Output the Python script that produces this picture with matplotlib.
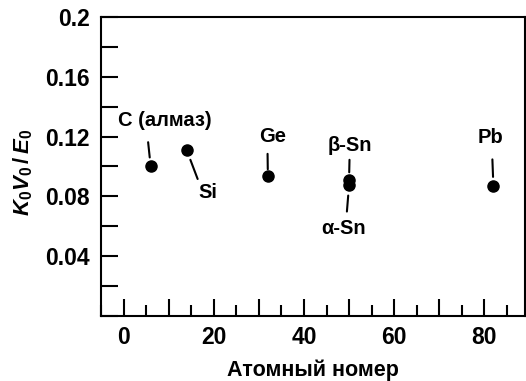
import matplotlib
matplotlib.use("Agg")
import matplotlib.pyplot as plt
from matplotlib.ticker import MultipleLocator, FuncFormatter

plt.rcParams['font.family'] = ['Liberation Sans', 'DejaVu Sans']
plt.rcParams['font.weight'] = 'bold'
plt.rcParams['mathtext.fontset'] = 'custom'
plt.rcParams['mathtext.it'] = 'Liberation Sans:italic:bold'
plt.rcParams['mathtext.rm'] = 'Liberation Sans:bold'

# atomic number and K0*V0/E0
elements = ["C (алмаз)", "Si", "Ge", "β-Sn", "α-Sn", "Pb"]
z = [6, 14, 32, 50, 50, 82]
ratio = [0.1005, 0.111, 0.0935, 0.091, 0.0875, 0.087]

# label placement (offset pixels), alignment, leader start (relpos) and gaps
offsets = [(14, 36), (21, -33), (5, 30), (1, 25), (-5, -34), (-3, 39)]
valign = ["bottom", "top", "bottom", "bottom", "top", "bottom"]
relpos = [(0.31, 0), (0.05, 1), (0.3, 0), (0.49, 0), (0.55, 1), (0.56, 0)]
gaps = [(7, 6), (1, 7.5), (3.5, 5), (1.5, 5.5), (3.5, 7.5), (7, 6.5)]

fig = plt.figure(figsize=(5.26, 3.81), dpi=100)
ax = fig.add_axes([0.192, 0.171, 0.806, 0.784])

ax.plot(z, ratio, 'o', color='black', markersize=8, linestyle='none')

for name, x, y, off, va, rp, g in zip(elements, z, ratio, offsets, valign, relpos, gaps):
    ax.annotate(name, xy=(x, y), xytext=off, textcoords='offset pixels',
                ha='center', va=va, fontsize=14.5, fontweight='bold',
                arrowprops=dict(arrowstyle='-', color='black', lw=1.5,
                                relpos=rp, shrinkA=g[0], shrinkB=g[1]))

ax.set_xlim(-5, 89)
ax.set_ylim(0, 0.2)

ax.xaxis.set_major_locator(MultipleLocator(10))
ax.xaxis.set_minor_locator(MultipleLocator(5))
ax.xaxis.set_major_formatter(FuncFormatter(lambda v, p: f"{v:.0f}" if round(v) % 20 == 0 else ""))
ax.yaxis.set_major_locator(MultipleLocator(0.02))
ax.yaxis.set_major_formatter(FuncFormatter(
    lambda v, p: ("0.2" if abs(v - 0.2) < 1e-9 else f"{v:.2f}") if round(v * 100) % 4 == 0 and v > 1e-9 else ""))

ax.tick_params(axis='both', which='both', direction='in', width=1.5, labelsize=16.5, colors='black')
ax.tick_params(axis='x', which='major', length=12, pad=7)
ax.tick_params(axis='x', which='minor', length=8)
ax.tick_params(axis='y', which='major', length=12, pad=8)
ax.tick_params(top=False, right=False)

for s in ax.spines.values():
    s.set_linewidth(1.5)

ax.set_xlabel("Атомный номер", fontsize=15.5, fontweight='bold', labelpad=8)
ax.set_ylabel("$K_0V_0\\,/\\,E_0$", fontsize=16)
ax.yaxis.set_label_coords(-0.156, 0.48)

fig.savefig("out.png", dpi=100)
